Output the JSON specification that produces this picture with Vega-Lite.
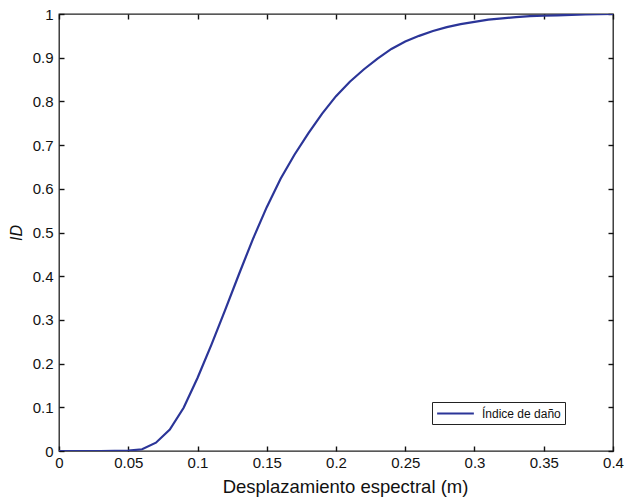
{
  "$schema": "https://vega.github.io/schema/vega-lite/v6.json",
  "width": 554,
  "height": 437,
  "autosize": {"type": "none"},
  "padding": {"left": 59, "top": 14, "right": 11, "bottom": 52},
  "background": "white",
  "config": {
    "view": {"stroke": "#222", "strokeWidth": 1.3},
    "font": "Liberation Sans",
    "axis": {"grid": false, "domain": false, "ticks": true, "labelFont": "Liberation Sans", "titleFont": "Liberation Sans", "labelColor": "#111", "titleColor": "#111", "tickColor": "#111", "tickWidth": 1.4, "labelFontSize": 15, "titleFontSize": 18.5, "titleFontWeight": "normal", "labelFlush": false, "labelOverlap": false}
  },
  "data": {"values": [
    {"x": 0.00, "y": 0.0, "s": "Índice de daño"},
    {"x": 0.01, "y": 0.0, "s": "Índice de daño"},
    {"x": 0.02, "y": 0.0, "s": "Índice de daño"},
    {"x": 0.03, "y": 0.0, "s": "Índice de daño"},
    {"x": 0.04, "y": 0.0002, "s": "Índice de daño"},
    {"x": 0.05, "y": 0.0008, "s": "Índice de daño"},
    {"x": 0.06, "y": 0.004, "s": "Índice de daño"},
    {"x": 0.07, "y": 0.019, "s": "Índice de daño"},
    {"x": 0.08, "y": 0.049, "s": "Índice de daño"},
    {"x": 0.09, "y": 0.099, "s": "Índice de daño"},
    {"x": 0.10, "y": 0.167, "s": "Índice de daño"},
    {"x": 0.11, "y": 0.243, "s": "Índice de daño"},
    {"x": 0.12, "y": 0.323, "s": "Índice de daño"},
    {"x": 0.13, "y": 0.405, "s": "Índice de daño"},
    {"x": 0.14, "y": 0.485, "s": "Índice de daño"},
    {"x": 0.15, "y": 0.558, "s": "Índice de daño"},
    {"x": 0.16, "y": 0.623, "s": "Índice de daño"},
    {"x": 0.17, "y": 0.678, "s": "Índice de daño"},
    {"x": 0.18, "y": 0.727, "s": "Índice de daño"},
    {"x": 0.19, "y": 0.772, "s": "Índice de daño"},
    {"x": 0.20, "y": 0.812, "s": "Índice de daño"},
    {"x": 0.21, "y": 0.845, "s": "Índice de daño"},
    {"x": 0.22, "y": 0.873, "s": "Índice de daño"},
    {"x": 0.23, "y": 0.898, "s": "Índice de daño"},
    {"x": 0.24, "y": 0.92, "s": "Índice de daño"},
    {"x": 0.25, "y": 0.937, "s": "Índice de daño"},
    {"x": 0.26, "y": 0.95, "s": "Índice de daño"},
    {"x": 0.27, "y": 0.961, "s": "Índice de daño"},
    {"x": 0.28, "y": 0.97, "s": "Índice de daño"},
    {"x": 0.29, "y": 0.977, "s": "Índice de daño"},
    {"x": 0.30, "y": 0.982, "s": "Índice de daño"},
    {"x": 0.31, "y": 0.987, "s": "Índice de daño"},
    {"x": 0.32, "y": 0.99, "s": "Índice de daño"},
    {"x": 0.33, "y": 0.993, "s": "Índice de daño"},
    {"x": 0.34, "y": 0.995, "s": "Índice de daño"},
    {"x": 0.35, "y": 0.996, "s": "Índice de daño"},
    {"x": 0.36, "y": 0.997, "s": "Índice de daño"},
    {"x": 0.37, "y": 0.998, "s": "Índice de daño"},
    {"x": 0.38, "y": 0.999, "s": "Índice de daño"},
    {"x": 0.39, "y": 0.9995, "s": "Índice de daño"},
    {"x": 0.40, "y": 1.0, "s": "Índice de daño"}
  ]},
  "layer": [
    {
      "mark": {"type": "line", "strokeWidth": 2.2, "clip": true},
      "encoding": {
        "x": {
          "field": "x", "type": "quantitative",
          "scale": {"domain": [0, 0.4], "nice": false, "zero": false},
          "axis": {"orient": "bottom", "offset": -5, "ticks": true, "tickSize": 5, "labelPadding": 4, "format": "~g", "values": [0, 0.05, 0.1, 0.15, 0.2, 0.25, 0.3, 0.35, 0.4], "title": "Desplazamiento espectral (m)", "titlePadding": 7, "titleX": 286}
        },
        "y": {
          "field": "y", "type": "quantitative",
          "scale": {"domain": [0, 1], "nice": false},
          "axis": {"orient": "left", "offset": -5, "ticks": true, "tickSize": 5, "labelPadding": 6, "format": "~g", "values": [0, 0.1, 0.2, 0.3, 0.4, 0.5, 0.6, 0.7, 0.8, 0.9, 1], "title": "ID", "titleFontStyle": "italic", "titleFontSize": 16, "titlePadding": 8}
        },
        "color": {
          "field": "s", "type": "nominal",
          "scale": {"range": ["#2b3598"]},
          "legend": {"title": null, "orient": "none", "legendX": 373, "legendY": 388, "symbolType": "M-3,0H3", "symbolSize": 150, "symbolOffset": 12, "symbolStrokeWidth": 2.2, "labelOffset": 19, "labelFontSize": 12, "labelColor": "#111", "strokeColor": "#222", "fillColor": "white", "padding": 4}
        }
      }
    },
    {
      "mark": {"type": "line", "strokeOpacity": 0},
      "encoding": {
        "x": {
          "field": "x", "type": "quantitative",
          "axis": {"orient": "top", "offset": -5, "ticks": true, "tickSize": 5, "labels": false, "title": null, "values": [0, 0.05, 0.1, 0.15, 0.2, 0.25, 0.3, 0.35, 0.4]}
        },
        "y": {
          "field": "y", "type": "quantitative",
          "axis": {"orient": "right", "offset": -5, "ticks": true, "tickSize": 5, "labels": false, "title": null, "values": [0, 0.1, 0.2, 0.3, 0.4, 0.5, 0.6, 0.7, 0.8, 0.9, 1]}
        }
      }
    }
  ],
  "resolve": {"axis": {"x": "independent", "y": "independent"}}
}
